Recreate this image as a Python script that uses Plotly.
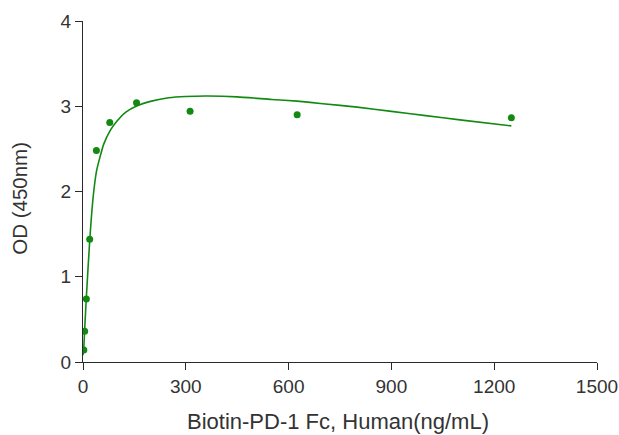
import plotly.graph_objects as go

conc = [2.44, 4.88, 9.77, 19.53, 39.06, 78.13, 156.25, 312.5, 625, 1250]
od = [0.14, 0.36, 0.74, 1.44, 2.48, 2.81, 3.04, 2.94, 2.90, 2.865]

fit_x = [0, 2.44, 4.88, 9.77, 19.53, 30, 40, 60, 80, 100, 125, 155, 200, 250, 300,
         365, 450, 550, 625, 700, 800, 900, 1000, 1100, 1250]
fit_y = [0.08, 0.18, 0.38, 0.76, 1.42, 1.95, 2.25, 2.55, 2.72, 2.83, 2.93, 3.00, 3.06,
         3.10, 3.115, 3.12, 3.11, 3.08, 3.06, 3.03, 2.99, 2.94, 2.89, 2.84, 2.77]

x_ticks = [0, 300, 600, 900, 1200, 1500]
y_ticks = [0, 1, 2, 3, 4]

green = "#128a12"
fig = go.Figure()
fig.add_trace(go.Scatter(x=fit_x, y=fit_y, mode="lines",
                         line=dict(color=green, width=1.6, shape="spline", smoothing=0.5),
                         hoverinfo="skip"))
fig.add_trace(go.Scatter(x=conc, y=od, mode="markers",
                         marker=dict(color=green, size=7)))

font = dict(family="Liberation Sans, Arial, sans-serif", size=19, color="#333333")
fig.update_layout(
    width=619, height=435,
    margin=dict(l=82.5, r=21.5, t=20.5, b=72.7, autoexpand=False),
    paper_bgcolor="white", plot_bgcolor="white",
    showlegend=False, font=font,
)
axis_common = dict(showline=True, linecolor="#2a2a2a", linewidth=1.3, ticks="outside",
                   ticklen=7, tickcolor="#2a2a2a", tickwidth=1.3, showgrid=False,
                   zeroline=False, automargin=False)
fig.update_xaxes(range=[0, 1500], tickvals=x_ticks, ticktext=[str(v) for v in x_ticks],
                 **axis_common)
fig.update_yaxes(range=[0, 4], tickvals=y_ticks, ticktext=[str(v) for v in y_ticks],
                 **axis_common)
fig.add_annotation(text="Biotin-PD-1 Fc, Human(ng/mL)", xref="paper", yref="paper",
                   x=0.496, y=-0.175, xanchor="center", yanchor="middle", showarrow=False,
                   font=dict(size=22, color="#333333"))
fig.add_annotation(text="OD (450nm)", xref="paper", yref="paper",
                   x=-0.123, y=0.481, xanchor="center", yanchor="middle", showarrow=False,
                   textangle=-90, font=dict(size=20.5, color="#333333"))
fig.write_html("out.html", config={"displayModeBar": False},
               post_script="document.body.style.margin='0';document.body.style.overflow='hidden';")
